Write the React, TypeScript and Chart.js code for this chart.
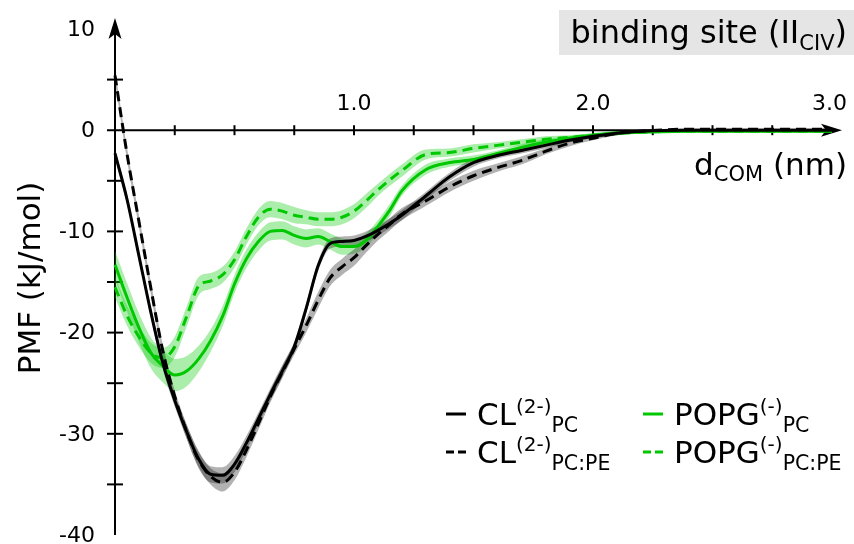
import React, { useEffect, useRef } from "react";
import { Chart, registerables } from "chart.js";

Chart.register(...registerables);

// ---- data ----
const distances = [0, 0.05, 0.1, 0.15, 0.2, 0.25, 0.3, 0.35, 0.4, 0.45, 0.5, 0.55, 0.6, 0.65, 0.7, 0.75, 0.8, 0.85, 0.9, 0.95, 1.0, 1.05, 1.1, 1.15, 1.2, 1.3, 1.4, 1.5, 1.6, 1.7, 1.8, 1.9, 2.0, 2.1, 2.2, 2.4, 2.6, 2.8, 3.0];

const clPC = [-2.3, -6.8, -12.4, -18.0, -23.0, -26.7, -29.8, -32.5, -34.0, -34.1, -33.0, -30.9, -28.5, -26.1, -23.8, -21.4, -17.6, -13.4, -11.2, -11.0, -10.9, -10.5, -9.9, -9.2, -8.4, -6.5, -4.6, -3.2, -2.5, -2.0, -1.5, -1.0, -0.6, -0.3, -0.1, 0, 0, 0, 0];
const clPCPE = [5.4, -2.3, -9.0, -15.6, -21.8, -26.3, -29.8, -32.6, -34.2, -34.8, -33.8, -31.6, -29.0, -26.3, -23.9, -21.6, -19.3, -16.8, -14.6, -13.5, -12.6, -11.4, -10.3, -9.3, -8.3, -7.0, -5.6, -4.5, -3.7, -3.0, -2.1, -1.3, -0.8, -0.3, -0.1, 0.1, 0.1, 0.1, 0.1];
const popgPC = [-13.3, -16.5, -19.5, -22.0, -23.3, -24.2, -23.8, -22.6, -20.8, -18.4, -15.2, -12.7, -11.0, -10.0, -9.9, -10.4, -10.7, -10.5, -11.0, -11.5, -11.5, -10.9, -9.5, -7.9, -6.0, -3.9, -3.2, -2.9, -2.3, -1.7, -1.2, -0.8, -0.5, -0.3, -0.2, -0.1, -0.1, -0.1, -0.1];
const popgPCPE = [-15.5, -18.3, -20.4, -22.0, -22.5, -21.4, -18.4, -15.4, -14.9, -14.3, -12.8, -10.5, -8.6, -7.8, -8.0, -8.4, -8.6, -8.8, -8.8, -8.6, -8.0, -7.0, -5.9, -4.9, -4.0, -2.4, -2.2, -1.8, -1.5, -1.2, -0.9, -0.7, -0.5, -0.3, -0.2, -0.1, -0.1, -0.1, -0.1];

// error (band half-widths)
const clPCErr = [0.5, 0.5, 0.5, 0.5, 0.6, 0.6, 0.7, 0.8, 0.8, 0.8, 0.8, 0.7, 0.6, 0.6, 0.6, 0.5, 0.5, 0.5, 0.5, 0.5, 0.5, 0.5, 0.5, 0.5, 0.5, 0.4, 0.4, 0.4, 0.3, 0.3, 0.3, 0.2, 0.2, 0.2, 0.1, 0.1, 0.1, 0.1, 0.1];
const clPCPEErr = [0.6, 0.6, 0.6, 0.6, 0.6, 0.6, 0.7, 0.8, 0.8, 0.9, 0.8, 0.7, 0.6, 0.6, 0.6, 0.6, 0.7, 0.8, 0.8, 0.8, 0.8, 0.7, 0.6, 0.6, 0.6, 0.5, 0.5, 0.5, 0.4, 0.4, 0.3, 0.3, 0.2, 0.2, 0.1, 0.1, 0.1, 0.1, 0.1];
const popgPCErr = [1.4, 1.4, 1.4, 1.5, 1.6, 1.6, 1.5, 1.3, 1.1, 1.0, 0.9, 0.9, 0.9, 0.9, 0.9, 0.9, 0.9, 0.8, 0.8, 0.8, 0.7, 0.7, 0.6, 0.6, 0.5, 0.5, 0.4, 0.4, 0.3, 0.3, 0.3, 0.2, 0.2, 0.2, 0.1, 0.1, 0.1, 0.1, 0.1];
const popgPCPEErr = [1.0, 1.0, 1.0, 1.0, 1.0, 1.0, 1.0, 0.9, 0.8, 0.8, 0.8, 0.8, 0.8, 0.8, 0.8, 0.8, 0.7, 0.7, 0.7, 0.7, 0.7, 0.7, 0.6, 0.6, 0.6, 0.5, 0.4, 0.4, 0.3, 0.3, 0.3, 0.2, 0.2, 0.2, 0.1, 0.1, 0.1, 0.1, 0.1];

const yTickValues = [10, 0, -10, -20, -30, -40];
const yTickLabels = ["10", "0", "-10", "-20", "-30", "-40"];
const xTickValues = [1, 2, 3];
const xTickLabels = ["1.0", "2.0", "3.0"];

const legendNames = ["CL", "CL", "POPG", "POPG"];
const legendSup = ["(2-)", "(2-)", "(-)", "(-)"];
const legendSub = ["PC", "PC:PE", "PC", "PC:PE"];

const FONT = '"DejaVu Sans", sans-serif';
const GREEN = "#00c800";
const BLACK = "#000000";
const GREEN_BAND = "rgba(0, 200, 0, 0.33)";
const GRAY_BAND = "rgba(0, 0, 0, 0.3)";

type Part = { text: string; size: number; dy: number };

function drawRich(ctx: CanvasRenderingContext2D, x: number, baseline: number, parts: Part[]) {
  let cx = x;
  for (const p of parts) {
    ctx.font = `${p.size}px ${FONT}`;
    ctx.fillText(p.text, cx, baseline + p.dy);
    cx += ctx.measureText(p.text).width;
  }
  return cx;
}

function richWidth(ctx: CanvasRenderingContext2D, parts: Part[]) {
  let w = 0;
  for (const p of parts) {
    ctx.font = `${p.size}px ${FONT}`;
    w += ctx.measureText(p.text).width;
  }
  return w;
}

const axesPlugin = {
  id: "customAxes",
  beforeDatasetsDraw(chart: any) {
    const ctx: CanvasRenderingContext2D = chart.ctx;
    const xs = chart.scales.x;
    const ys = chart.scales.y;
    const x0 = xs.getPixelForValue(0);
    const y0 = ys.getPixelForValue(0);
    ctx.save();
    ctx.strokeStyle = "#000";
    ctx.fillStyle = "#000";
    ctx.lineWidth = 2;
    // y axis
    const yBottom = ys.getPixelForValue(-40);
    const yTip = ys.getPixelForValue(10) - 11;
    ctx.beginPath();
    ctx.moveTo(x0, yBottom);
    ctx.lineTo(x0, yTip + 12);
    ctx.stroke();
    ctx.beginPath();
    ctx.moveTo(x0, yTip);
    ctx.lineTo(x0 - 6.5, yTip + 21);
    ctx.lineTo(x0, yTip + 16);
    ctx.lineTo(x0 + 6.5, yTip + 21);
    ctx.closePath();
    ctx.fill();
    // x axis
    const xTip = xs.getPixelForValue(3) + 10;
    ctx.beginPath();
    ctx.moveTo(x0 - 8, y0);
    ctx.lineTo(xTip - 12, y0);
    ctx.stroke();
    ctx.beginPath();
    ctx.moveTo(xTip, y0);
    ctx.lineTo(xTip - 21, y0 - 6.5);
    ctx.lineTo(xTip - 16, y0);
    ctx.lineTo(xTip - 21, y0 + 6.5);
    ctx.closePath();
    ctx.fill();
    // y ticks every 5
    for (let v = -35; v <= 5; v += 5) {
      if (v === 0) continue;
      const py = ys.getPixelForValue(v);
      ctx.beginPath();
      ctx.moveTo(x0 - 8, py);
      ctx.lineTo(x0 + 8, py);
      ctx.stroke();
    }
    // x ticks every 0.25
    for (let k = 1; k <= 11; k++) {
      const px = xs.getPixelForValue(k * 0.25);
      ctx.beginPath();
      ctx.moveTo(px, y0 - 5);
      ctx.lineTo(px, y0 + 5);
      ctx.stroke();
    }
    ctx.restore();
  },
  afterDraw(chart: any) {
    const ctx: CanvasRenderingContext2D = chart.ctx;
    const xs = chart.scales.x;
    const ys = chart.scales.y;
    const x0 = xs.getPixelForValue(0);
    const y0 = ys.getPixelForValue(0);
    ctx.save();
    ctx.fillStyle = "#000";
    // y tick labels
    ctx.font = `22px ${FONT}`;
    ctx.textAlign = "right";
    ctx.textBaseline = "middle";
    yTickValues.forEach((v, i) => {
      ctx.fillText(yTickLabels[i], x0 - 20, ys.getPixelForValue(v) + 1);
    });
    // x tick labels (above the axis)
    ctx.textAlign = "center";
    ctx.textBaseline = "alphabetic";
    xTickValues.forEach((v, i) => {
      let px = xs.getPixelForValue(v);
      const w = ctx.measureText(xTickLabels[i]).width;
      px = Math.min(px, 847 - w / 2);
      ctx.fillText(xTickLabels[i], px, y0 - 20);
    });
    ctx.textAlign = "left";

    // title box
    ctx.fillStyle = "#e5e5e5";
    ctx.fillRect(559, 10, 295, 45);
    ctx.fillStyle = "#000";
    const titleParts: Part[] = [
      { text: "binding site (II", size: 32, dy: 0 },
      { text: "CIV", size: 21, dy: 7 },
      { text: ")", size: 32, dy: 0 },
    ];
    const tw = richWidth(ctx, titleParts);
    drawRich(ctx, 847 - tw, 43, titleParts);

    // x axis title
    const xtParts: Part[] = [
      { text: "d", size: 31, dy: 0 },
      { text: "COM", size: 21, dy: 6 },
      { text: " (nm)", size: 31, dy: 0 },
    ];
    const xw = richWidth(ctx, xtParts);
    drawRich(ctx, 847 - xw, 175, xtParts);

    // y axis title
    ctx.save();
    ctx.translate(40, 278);
    ctx.rotate(-Math.PI / 2);
    ctx.font = `31px ${FONT}`;
    ctx.textAlign = "center";
    ctx.fillText("PMF (kJ/mol)", 0, 0);
    ctx.restore();

    // legend
    const colX = [446, 446, 643, 643];
    const rowY = [425, 463, 425, 463];
    const colors = [BLACK, BLACK, GREEN, GREEN];
    const dashed = [false, true, false, true];
    for (let i = 0; i < 4; i++) {
      ctx.strokeStyle = colors[i];
      ctx.lineWidth = 3;
      ctx.setLineDash(dashed[i] ? [8, 4] : []);
      ctx.beginPath();
      ctx.moveTo(colX[i], rowY[i] - 11);
      ctx.lineTo(colX[i] + 20, rowY[i] - 11);
      ctx.stroke();
      ctx.setLineDash([]);
      ctx.fillStyle = "#000";
      drawRich(ctx, colX[i] + 31, rowY[i], [
        { text: legendNames[i], size: 31, dy: 0 },
        { text: legendSup[i], size: 20, dy: -12 },
        { text: legendSub[i], size: 20.5, dy: 7 },
      ]);
    }
    ctx.restore();
  },
};

function pts(arr: number[]) {
  return distances.map((d, i) => ({ x: d, y: arr[i] }));
}
function band(arr: number[], err: number[], sign: number) {
  return distances.map((d, i) => ({ x: d, y: arr[i] + sign * err[i] }));
}

export default function App() {
  const ref = useRef<HTMLCanvasElement | null>(null);
  useEffect(() => {
    if (!ref.current) return;
    const lineBase = {
      pointRadius: 0,
      fill: false,
      borderWidth: 3,
      cubicInterpolationMode: "monotone" as const,
      clip: false as any,
      borderCapStyle: "butt" as const,
      borderJoinStyle: "round" as const,
    };
    const bandBase = {
      pointRadius: 0,
      borderWidth: 0,
      cubicInterpolationMode: "monotone" as const,
      clip: false as any,
    };
    const chart = new Chart(ref.current, {
      type: "line",
      data: {
        datasets: [
          { ...lineBase, label: "CL PC", data: pts(clPC), borderColor: BLACK, order: 1 },
          { ...lineBase, label: "CL PC:PE", data: pts(clPCPE), borderColor: BLACK, borderDash: [10, 6], order: 1 },
          { ...lineBase, label: "POPG PC", data: pts(popgPC), borderColor: GREEN, order: 2 },
          { ...lineBase, label: "POPG PC:PE", data: pts(popgPCPE), borderColor: GREEN, borderDash: [10, 6], order: 2 },
          { ...bandBase, label: "b1u", data: band(clPC, clPCErr, 1), fill: false, order: 4 },
          { ...bandBase, label: "b1l", data: band(clPC, clPCErr, -1), fill: "-1", backgroundColor: GRAY_BAND, order: 4 },
          { ...bandBase, label: "b2u", data: band(clPCPE, clPCPEErr, 1), fill: false, order: 4 },
          { ...bandBase, label: "b2l", data: band(clPCPE, clPCPEErr, -1), fill: "-1", backgroundColor: GRAY_BAND, order: 4 },
          { ...bandBase, label: "b3u", data: band(popgPC, popgPCErr, 1), fill: false, order: 5 },
          { ...bandBase, label: "b3l", data: band(popgPC, popgPCErr, -1), fill: "-1", backgroundColor: GREEN_BAND, order: 5 },
          { ...bandBase, label: "b4u", data: band(popgPCPE, popgPCPEErr, 1), fill: false, order: 5 },
          { ...bandBase, label: "b4l", data: band(popgPCPE, popgPCPEErr, -1), fill: "-1", backgroundColor: GREEN_BAND, order: 5 },
        ],
      },
      options: {
        responsive: false,
        animation: false,
        devicePixelRatio: 1,
        layout: { padding: { left: 115, right: 22, top: 29, bottom: 9 } },
        scales: {
          x: { type: "linear", min: 0, max: 3, display: false },
          y: { type: "linear", min: -40, max: 10, display: false },
        },
        plugins: {
          legend: { display: false },
          tooltip: { enabled: false },
          title: { display: false },
        },
      },
      plugins: [axesPlugin],
    });
    return () => chart.destroy();
  }, []);
  return (
    <div style={{ position: "fixed", left: 0, top: 0, width: 854, height: 544, background: "#fff" }}>
      <canvas ref={ref} width={854} height={544} style={{ display: "block", width: 854, height: 544 }} />
    </div>
  );
}
